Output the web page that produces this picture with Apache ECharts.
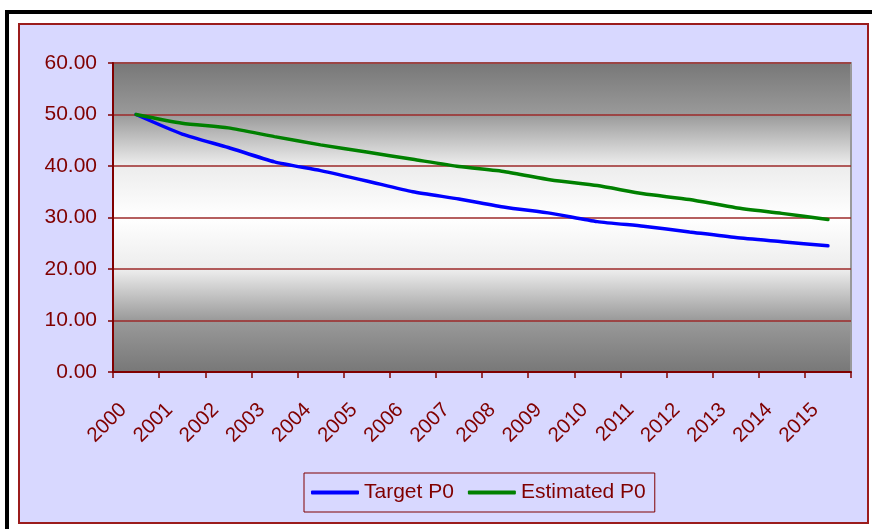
<!DOCTYPE html>
<html>
<head>
<meta charset="utf-8">
<script src="https://cdn.jsdelivr.net/npm/echarts@6/dist/echarts.min.js"></script>
<style>
html,body{margin:0;padding:0;background:#fff;width:872px;height:529px;overflow:hidden;position:relative;}
#frame{position:absolute;left:5px;top:10px;width:900px;height:600px;border-left:4px solid #000;border-top:4px solid #000;}
#inner{position:absolute;left:18px;top:23px;width:847px;height:497px;border:2px solid #9b1c1c;background:#d8d8ff;}
#chart{position:absolute;left:0;top:0;width:872px;height:529px;}
</style>
</head>
<body>
<div id="frame"></div>
<div id="inner"></div>
<div id="chart"></div>
<script>
const years = ['2000','2001','2002','2003','2004','2005','2006','2007','2008','2009','2010','2011','2012','2013','2014','2015'];
const targetP0 = [50.0, 46.2, 43.6, 40.8, 39.1, 37.1, 35.0, 33.6, 32.0, 30.8, 29.2, 28.3, 27.2, 26.1, 25.3, 24.5];
const estimatedP0 = [50.0, 48.3, 47.4, 45.7, 44.1, 42.7, 41.3, 39.9, 38.9, 37.3, 36.2, 34.6, 33.5, 31.9, 30.8, 29.6];
const yTicks = [0, 10, 20, 30, 40, 50, 60];

const red = '#800000';
const font = '"Liberation Sans", Arial, sans-serif';
const chart = echarts.init(document.getElementById('chart'), null, {renderer: 'canvas'});
chart.setOption({
  animation: false,
  backgroundColor: 'transparent',
  textStyle: {fontFamily: font},
  grid: {
    left: 113, top: 63, width: 738, height: 309,
    show: true,
    borderColor: '#999999', borderWidth: 2,
    backgroundColor: new echarts.graphic.LinearGradient(0, 0, 0, 1, [
      {offset: 0, color: '#777777'},
      {offset: 0.17, color: '#9a9a9a'},
      {offset: 0.33, color: '#ececec'},
      {offset: 0.5, color: '#ffffff'},
      {offset: 0.67, color: '#ececec'},
      {offset: 0.83, color: '#9a9a9a'},
      {offset: 1, color: '#777777'}
    ])
  },
  xAxis: {
    type: 'category',
    data: years,
    boundaryGap: true,
    axisLine: {lineStyle: {color: red, width: 2}},
    axisTick: {show: true, length: 6, lineStyle: {color: red, width: 1.5}},
    axisLabel: {color: red, fontSize: 20.5, rotate: 45, margin: 22, padding: [0, 18, 0, 0], fontFamily: font},
    splitLine: {show: false}
  },
  yAxis: {
    type: 'value',
    min: yTicks[0], max: yTicks[yTicks.length - 1], interval: 10,
    axisLine: {show: true, lineStyle: {color: red, width: 2}},
    axisTick: {show: true, length: 5, lineStyle: {color: red, width: 1.5}},
    axisLabel: {color: red, fontSize: 21, margin: 16, fontFamily: font,
      formatter: v => v.toFixed(2)},
    splitLine: {show: true, lineStyle: {color: '#9c2a2a', width: 1.5}}
  },
  legend: {
    left: 304, top: 473,
    orient: 'horizontal',
    backgroundColor: '#d8d8ff',
    borderColor: red, borderWidth: 1,
    padding: [9, 9, 9, 7],
    itemWidth: 48, itemHeight: 4, itemGap: 14,
    icon: 'roundRect',
    textStyle: {color: red, fontSize: 21, fontFamily: font},
    data: ['Target P0', 'Estimated P0']
  },
  series: [
    {name: 'Target P0', type: 'line', data: targetP0, smooth: 0.2, showSymbol: false, symbol: 'none',
     lineStyle: {color: '#0000ff', width: 3.5, cap: 'round'}, itemStyle: {color: '#0000ff'}},
    {name: 'Estimated P0', type: 'line', data: estimatedP0, smooth: 0.2, showSymbol: false, symbol: 'none',
     lineStyle: {color: '#008000', width: 3.5, cap: 'round'}, itemStyle: {color: '#008000'}}
  ]
});
</script>
</body>
</html>
